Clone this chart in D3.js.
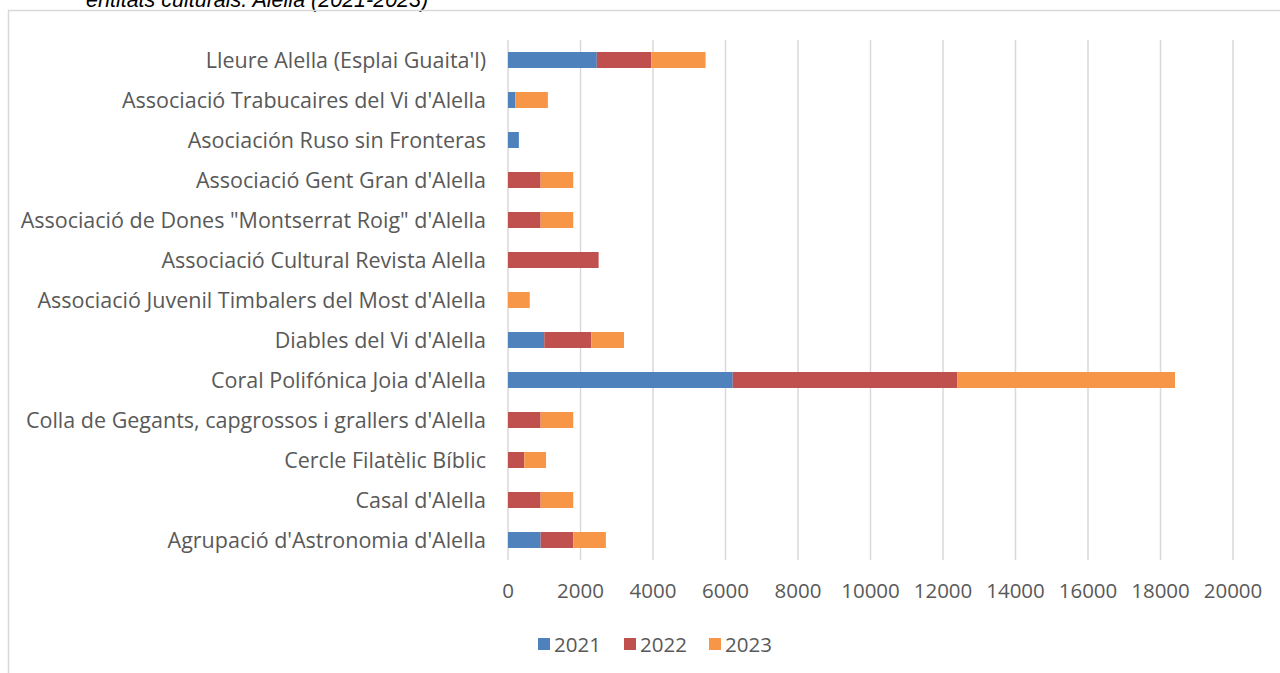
<!DOCTYPE html>
<html><head><meta charset="utf-8">
<script src="https://cdn.jsdelivr.net/npm/d3@7"></script>
<style>body{margin:0;background:#fff;overflow:hidden}svg{display:block}</style>
</head><body>
<svg id="c" width="1280" height="673"></svg>
<script>
const categories = [
  "Lleure Alella (Esplai Guaita'l)",
  "Associació Trabucaires del Vi d'Alella",
  "Asociación Ruso sin Fronteras",
  "Associació Gent Gran d'Alella",
  "Associació de Dones \"Montserrat Roig\" d'Alella",
  "Associació Cultural Revista Alella",
  "Associació Juvenil Timbalers del Most d'Alella",
  "Diables del Vi d'Alella",
  "Coral Polifónica Joia d'Alella",
  "Colla de Gegants, capgrossos i grallers d'Alella",
  "Cercle Filatèlic Bíblic",
  "Casal d'Alella",
  "Agrupació d'Astronomia d'Alella"
];
const seriesNames = ["2021", "2022", "2023"];
const values2021 = [2450, 200, 300, 0, 0, 0, 0, 1000, 6200, 0, 0, 0, 900];
const values2022 = [1500, 0, 0, 900, 900, 2500, 0, 1300, 6200, 900, 450, 900, 900];
const values2023 = [1500, 900, 0, 900, 900, 0, 600, 900, 6000, 900, 600, 900, 900];
const xTicks = [0, 2000, 4000, 6000, 8000, 10000, 12000, 14000, 16000, 18000, 20000];
const titleText = "entitats culturals. Alella (2021-2023)";

const colors = ["#4f81bd", "#c0504d", "#f79646"];
const textColor = "#595959";
const svg = d3.select("#c");

// title (cut off at top, as in the reference)
svg.append("text").attr("x", 86).attr("y", 7)
  .attr("font-family", "Liberation Sans, Arial, sans-serif")
  .attr("font-style", "italic").attr("font-size", 21.5).attr("fill", "#000")
  .text(titleText);

// chart border
svg.append("rect").attr("x", 8.5).attr("y", 10.5).attr("width", 1400).attr("height", 800)
  .attr("fill", "none").attr("stroke", "#d9d9d9").attr("stroke-width", 1.5);

const x = d3.scaleLinear().domain([0, 20000]).range([508, 1233]);
const y = d3.scaleBand().domain(categories).range([40, 560]).paddingInner(0.6).paddingOuter(0.3);

// gridlines
svg.append("g").selectAll("line").data(xTicks).join("line")
  .attr("x1", d => x(d)).attr("x2", d => x(d)).attr("y1", 40).attr("y2", 560)
  .attr("stroke", "#d9d9d9").attr("stroke-width", 1.5);

const stackData = categories.map((c, i) => ({cat: c, s0: values2021[i], s1: values2022[i], s2: values2023[i]}));
const stacked = d3.stack().keys(["s0", "s1", "s2"])(stackData);

svg.append("g").selectAll("g").data(stacked).join("g")
  .attr("fill", (d, i) => colors[i])
  .selectAll("rect").data(d => d.filter(p => p[1] - p[0] > 0)).join("rect")
  .attr("x", d => x(d[0])).attr("width", d => x(d[1]) - x(d[0]))
  .attr("y", d => y(d.data.cat)).attr("height", y.bandwidth());

// category labels
const fontMain = "Open Sans, sans-serif";
svg.append("g").selectAll("text").data(categories).join("text")
  .attr("x", 486).attr("y", d => y(d) + y.bandwidth() / 2)
  .attr("dy", "0.35em").attr("text-anchor", "end")
  .attr("font-family", fontMain).attr("font-size", 21.5).attr("fill", textColor)
  .text(d => d);

// x tick labels
svg.append("g").selectAll("text").data(xTicks).join("text")
  .attr("x", d => x(d)).attr("y", 591).attr("dy", "0.35em").attr("text-anchor", "middle")
  .attr("font-family", fontMain).attr("font-size", 20.5).attr("fill", textColor)
  .text(d => d);

// legend
const lg = svg.append("g");
const legX = [538, 624, 709];
seriesNames.forEach((n, i) => {
  lg.append("rect").attr("x", legX[i]).attr("y", 638).attr("width", 12).attr("height", 12).attr("fill", colors[i]);
  lg.append("text").attr("x", legX[i] + 16).attr("y", 645).attr("dy", "0.35em")
    .attr("font-family", fontMain).attr("font-size", 20.5).attr("fill", textColor).text(n);
});
</script>
</body></html>
